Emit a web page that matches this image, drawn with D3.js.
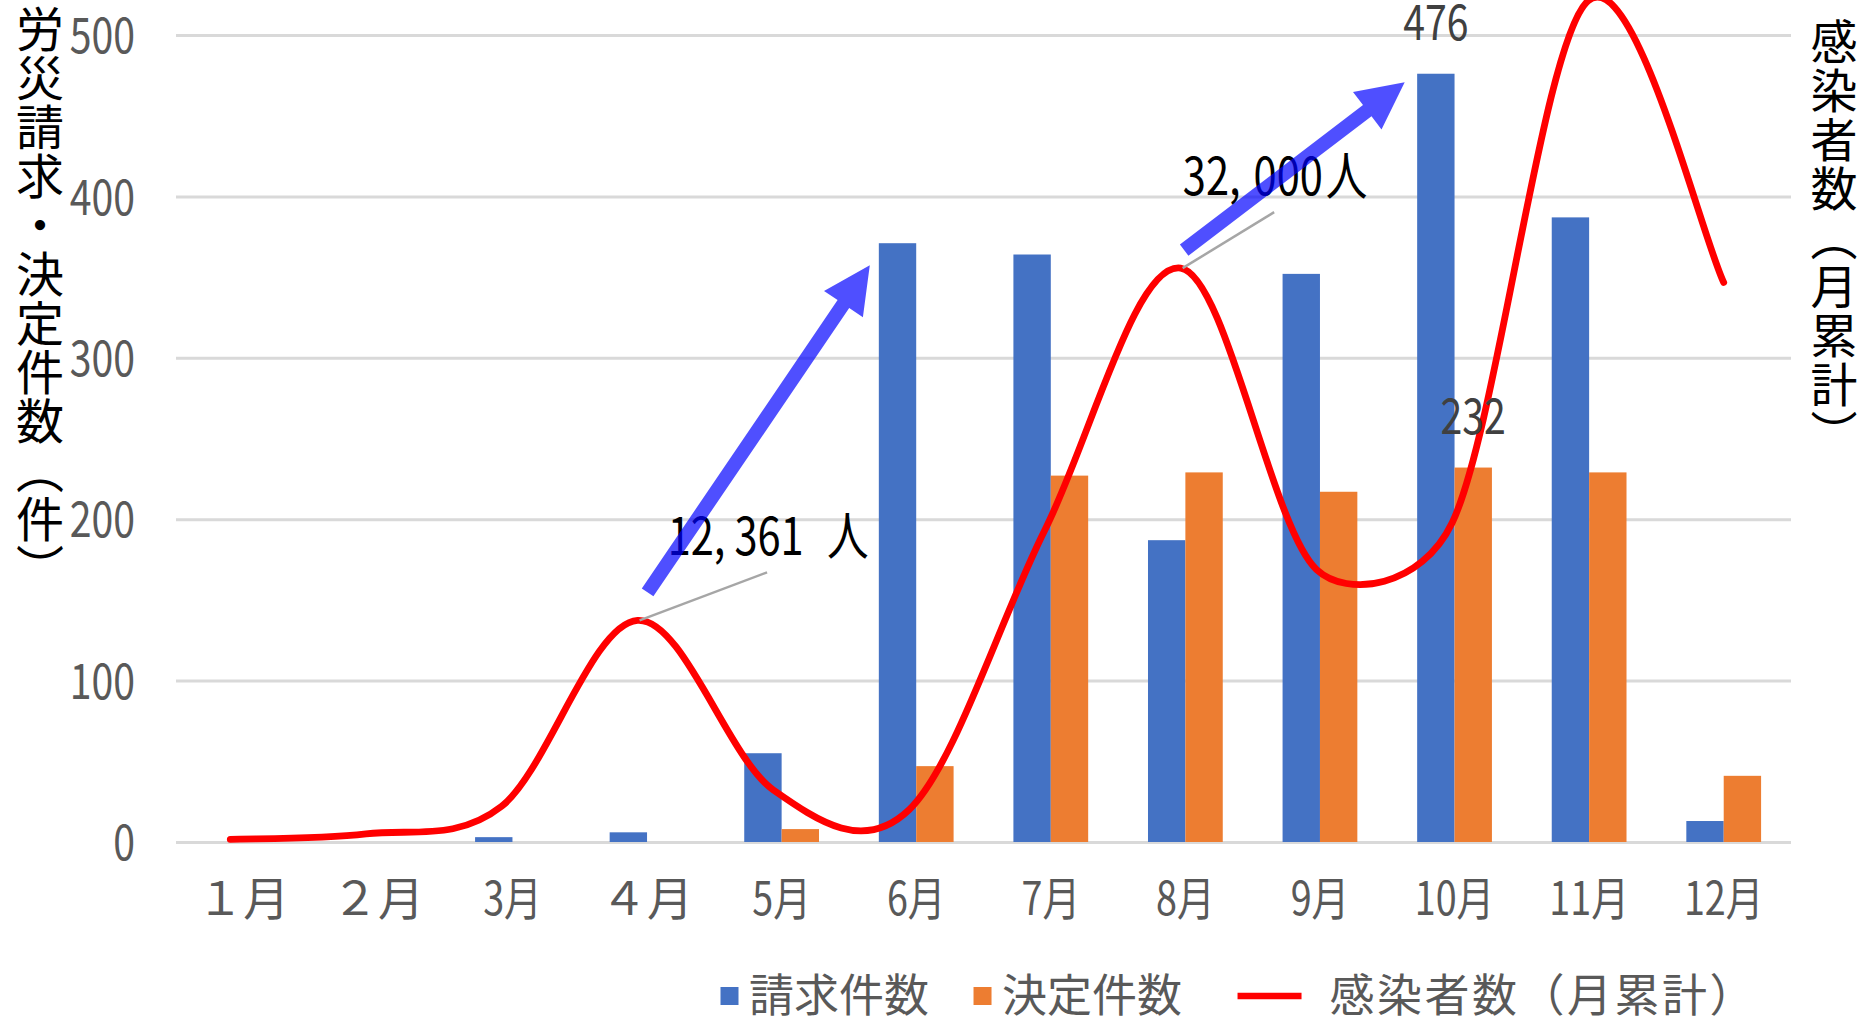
<!DOCTYPE html>
<html><head><meta charset="utf-8">
<script src="https://cdn.jsdelivr.net/npm/d3@7"></script>
<style>
html,body{margin:0;padding:0;background:#fff;}
svg{display:block;}
text{font-family:"Noto Sans CJK JP","Noto Sans",sans-serif;white-space:pre;}
</style></head><body>
<svg id="chart" width="1862" height="1020"></svg>
<script>
// ---------- data ----------
const months = ["１月","２月","3月","４月","5月","6月","7月","8月","9月","10月","11月","12月"];
const claims = [0,0,3,6,55,371,364,187,352,476,387,13];          // 請求件数
const decisions = [0,0,0,0,8,47,227,229,217,232,229,41];          // 決定件数
const infections = [150,450,2000,12361,2900,1800,17400,32000,15200,17800,46900,31200]; // 感染者数（月累計）
const leftTicks = [0,100,200,300,400,500];
const seriesNames = ["請求件数","決定件数","感染者数（月累計）"];
const leftTitle = "労災請求・決定件数（件）";
const rightTitle = "感染者数（月累計）";
const callouts = [{month:"４月", parts:["12,","361 ","人"]},{month:"8月", parts:["32,","000","人"]}];
const barLabels = [{month:"10月", series:"claims"},{month:"10月", series:"decisions"}];
const arrows = [{from:"４月", to:"6月"},{from:"8月", to:"10月"}];

// ---------- layout ----------
const W = 1862, H = 1020;
const plot = {left:176, right:1791, top:35, bottom:842};
const colors = {claims:"#4472C4", decisions:"#ED7D31", line:"#FF0000", grid:"#D9D9D9", text:"#595959", label:"#404040", arrow:"#0000FF"};
const svg = d3.select("#chart");

const x = d3.scaleBand().domain(months).range([plot.left, plot.right]).padding(0);
const bw = x.bandwidth();
const xs = d3.scaleBand().domain(["claims","decisions"]).range([bw*0.4/1.8, bw*1.4/1.8]).padding(0);
const lineX = d3.scalePoint().domain(months).range([plot.left + bw/2 - 13, plot.right - bw/2]);
const yL = d3.scaleLinear().domain([0,500]).range([plot.bottom, plot.top]);
const yR = d3.scaleLinear().domain([0,45000]).range([plot.bottom, plot.top]);

function condense(sel, sx){
  sel.each(function(){
    const t = d3.select(this);
    const xv = +t.attr("x") || 0;
    t.attr("x", xv / sx).attr("transform", `scale(${sx},1)`);
  });
}

// Excel-like smoothed line (Bezier, 1/6 tangents, capped at half segment length)
function excelSmooth(context){
  let pts = [];
  return {
    areaStart(){}, areaEnd(){},
    lineStart(){ pts = []; },
    point(px,py){ pts.push([+px,+py]); },
    lineEnd(){
      const n = pts.length; if(!n) return;
      const d = (a,b)=>Math.hypot(b[0]-a[0], b[1]-a[1]);
      context.moveTo(pts[0][0], pts[0][1]);
      for(let i=0;i<n-1;i++){
        const p0=pts[Math.max(i-1,0)], p1=pts[i], p2=pts[i+1], p3=pts[Math.min(i+2,n-1)];
        const d02=d(p0,p2), d12=d(p1,p2), d13=d(p1,p3);
        let f1=1/6, f2=1/6;
        const c1 = d02/6 > d12/2, c2 = d13/6 > d12/2;
        if(c1 || c2){
          const a = c1 ? d12/(2*d02) : 1/6, b = c2 ? d12/(2*d13) : 1/6;
          f1 = f2 = Math.min(a,b);
        }
        context.bezierCurveTo(p1[0]+f1*(p2[0]-p0[0]), p1[1]+f1*(p2[1]-p0[1]),
                              p2[0]-f2*(p3[0]-p1[0]), p2[1]-f2*(p3[1]-p1[1]), p2[0], p2[1]);
      }
    }
  };
}

// gridlines + left tick labels
const gy = svg.append("g").attr("transform", `translate(${plot.left},0)`)
  .call(d3.axisLeft(yL).tickValues(leftTicks).tickSize(-(plot.right-plot.left)).tickPadding(41).tickFormat(d3.format("d")));
gy.select(".domain").remove();
gy.selectAll(".tick line").attr("stroke", colors.grid).attr("stroke-width", 3);
gy.selectAll(".tick text").attr("fill", colors.text).attr("font-size", 49).attr("font-family", null).attr("dy","0.36em");
condense(gy.selectAll(".tick text"), 0.8);

// x axis labels
const gx = svg.append("g").attr("transform", `translate(0,${plot.bottom})`)
  .call(d3.axisBottom(x).tickSize(0).tickPadding(0));
gx.select(".domain").remove();
gx.selectAll(".tick text").attr("fill", colors.text).attr("font-size", 46).attr("font-family", null)
  .attr("y", 56).attr("dy","0.36em");
condense(gx.selectAll(".tick text").filter(d=>!/[０-９]/.test(d)), 0.82);

// bars
const barData = [];
months.forEach((m,i)=>{
  barData.push({month:m, key:"claims", value:claims[i]});
  barData.push({month:m, key:"decisions", value:decisions[i]});
});
svg.append("g").selectAll("rect").data(barData.filter(d=>d.value>0)).join("rect")
  .attr("x", d=>x(d.month)+xs(d.key))
  .attr("width", xs.bandwidth())
  .attr("y", d=>yL(d.value))
  .attr("height", d=>yL(0)-yL(d.value))
  .attr("fill", d=>colors[d.key]);

// infection line (secondary axis, hidden)
const lineData = months.map((m,i)=>({month:m, value:infections[i]}));
svg.append("path").datum(lineData)
  .attr("fill","none").attr("stroke", colors.line).attr("stroke-width", 6.8)
  .attr("stroke-linecap","round").attr("stroke-linejoin","round")
  .attr("d", d3.line().x(d=>lineX(d.month)).y(d=>yR(d.value)).curve(excelSmooth));

// callouts with leader lines
const calloutOffsets = [{dx:130.5, dy:-65, gaps:[9,14]},{dx:94.5, dy:-73, gaps:[13,3]}];
const sx = 0.8;
callouts.forEach((c,i)=>{
  const idx = months.indexOf(c.month);
  const px = lineX(c.month), py = yR(infections[idx]);
  const o = calloutOffsets[i];
  svg.append("line").attr("x1", px+2).attr("y1", py).attr("x2", px+o.dx-1).attr("y2", py+o.dy+17)
    .attr("stroke","#A6A6A6").attr("stroke-width",2.5);
  const t = svg.append("text").attr("transform", `translate(${px+o.dx},${py+o.dy}) scale(${sx},1)`)
    .attr("text-anchor","middle").attr("font-size", 52).attr("fill","#000");
  c.parts.forEach((p,j)=>{
    const ts = t.append("tspan").text(p);
    if(j>0) ts.attr("dx", o.gaps[j-1]/sx);
  });
});

// bar data labels
barLabels.forEach(b=>{
  const idx = months.indexOf(b.month);
  const v = b.series==="claims" ? claims[idx] : decisions[idx];
  const cx = x(b.month)+xs(b.series)+xs.bandwidth()/2;
  const t = svg.append("text").attr("x", cx).attr("y", yL(v)-34).attr("text-anchor","middle")
    .attr("font-size", 49).attr("fill", colors.label).text(v);
  condense(t, 0.8);
});

// arrows
function arrowPath(x0,y0,x1,y1,sw,hl,hw){
  const dx=x1-x0, dy=y1-y0, L=Math.hypot(dx,dy), ux=dx/L, uy=dy/L, nx=-uy, ny=ux;
  const bx=x1-ux*hl, by=y1-uy*hl;
  const pts=[[x0+nx*sw/2,y0+ny*sw/2],[bx+nx*sw/2,by+ny*sw/2],[bx+nx*hw/2,by+ny*hw/2],[x1,y1],
             [bx-nx*hw/2,by-ny*hw/2],[bx-nx*sw/2,by-ny*sw/2],[x0-nx*sw/2,y0-ny*sw/2]];
  return "M"+pts.map(p=>p.map(v=>v.toFixed(1)).join(",")).join("L")+"Z";
}
const arrowOffsets = [{tx:10, ty:-28, hx:-9, hy:22},{tx:3.5, ty:-18, hx:-12.5, hy:8.5}];
arrows.forEach((a,i)=>{
  const fi = months.indexOf(a.from), ti = months.indexOf(a.to);
  const o = arrowOffsets[i];
  const x0 = lineX(a.from)+o.tx, y0 = yR(infections[fi])+o.ty;
  const x1 = x(a.to)+xs("claims")+o.hx, y1 = yL(claims[ti])+o.hy;
  svg.append("path").attr("d", arrowPath(x0,y0,x1,y1,14,47,47))
    .attr("fill", colors.arrow).attr("fill-opacity", 0.69);
});

// axis titles (vertical, one full-width cell per character)
function verticalTitle(str, cx, y0, fs, pitch){
  const t = svg.append("text").attr("x", cx).attr("y", y0).attr("font-size", fs).attr("fill","#000")
    .style("writing-mode","vertical-rl").style("text-orientation","upright");
  Array.from(str).forEach((ch,i)=>{
    t.append("tspan").attr("x", cx).attr("y", y0 + i*pitch).text(ch);
  });
}
verticalTitle(leftTitle, 40, 5, 48, 49);
verticalTitle(rightTitle, 1834, 18, 47, 49);

// legend
const legY = 996;
const leg = svg.append("g").attr("font-size", 45).attr("fill", colors.text);
let lx = 720.5;
seriesNames.forEach((name,i)=>{
  if(i<2){
    leg.append("rect").attr("x", lx).attr("y", legY-9).attr("width",18).attr("height",18)
      .attr("fill", i===0?colors.claims:colors.decisions);
    lx += 28.5;
  } else {
    lx += 11;
    leg.append("line").attr("x1", lx).attr("x2", lx+64).attr("y1", legY).attr("y2", legY)
      .attr("stroke", colors.line).attr("stroke-width", 6.5);
    lx += 92;
  }
  const t = leg.append("text").attr("x", lx).attr("y", legY).attr("dy","0.36em").text(name);
  if(i===2) t.attr("textLength", 425).attr("lengthAdjust","spacing");
  lx += t.node().getComputedTextLength() + 44.5;
});
</script>
</body></html>
